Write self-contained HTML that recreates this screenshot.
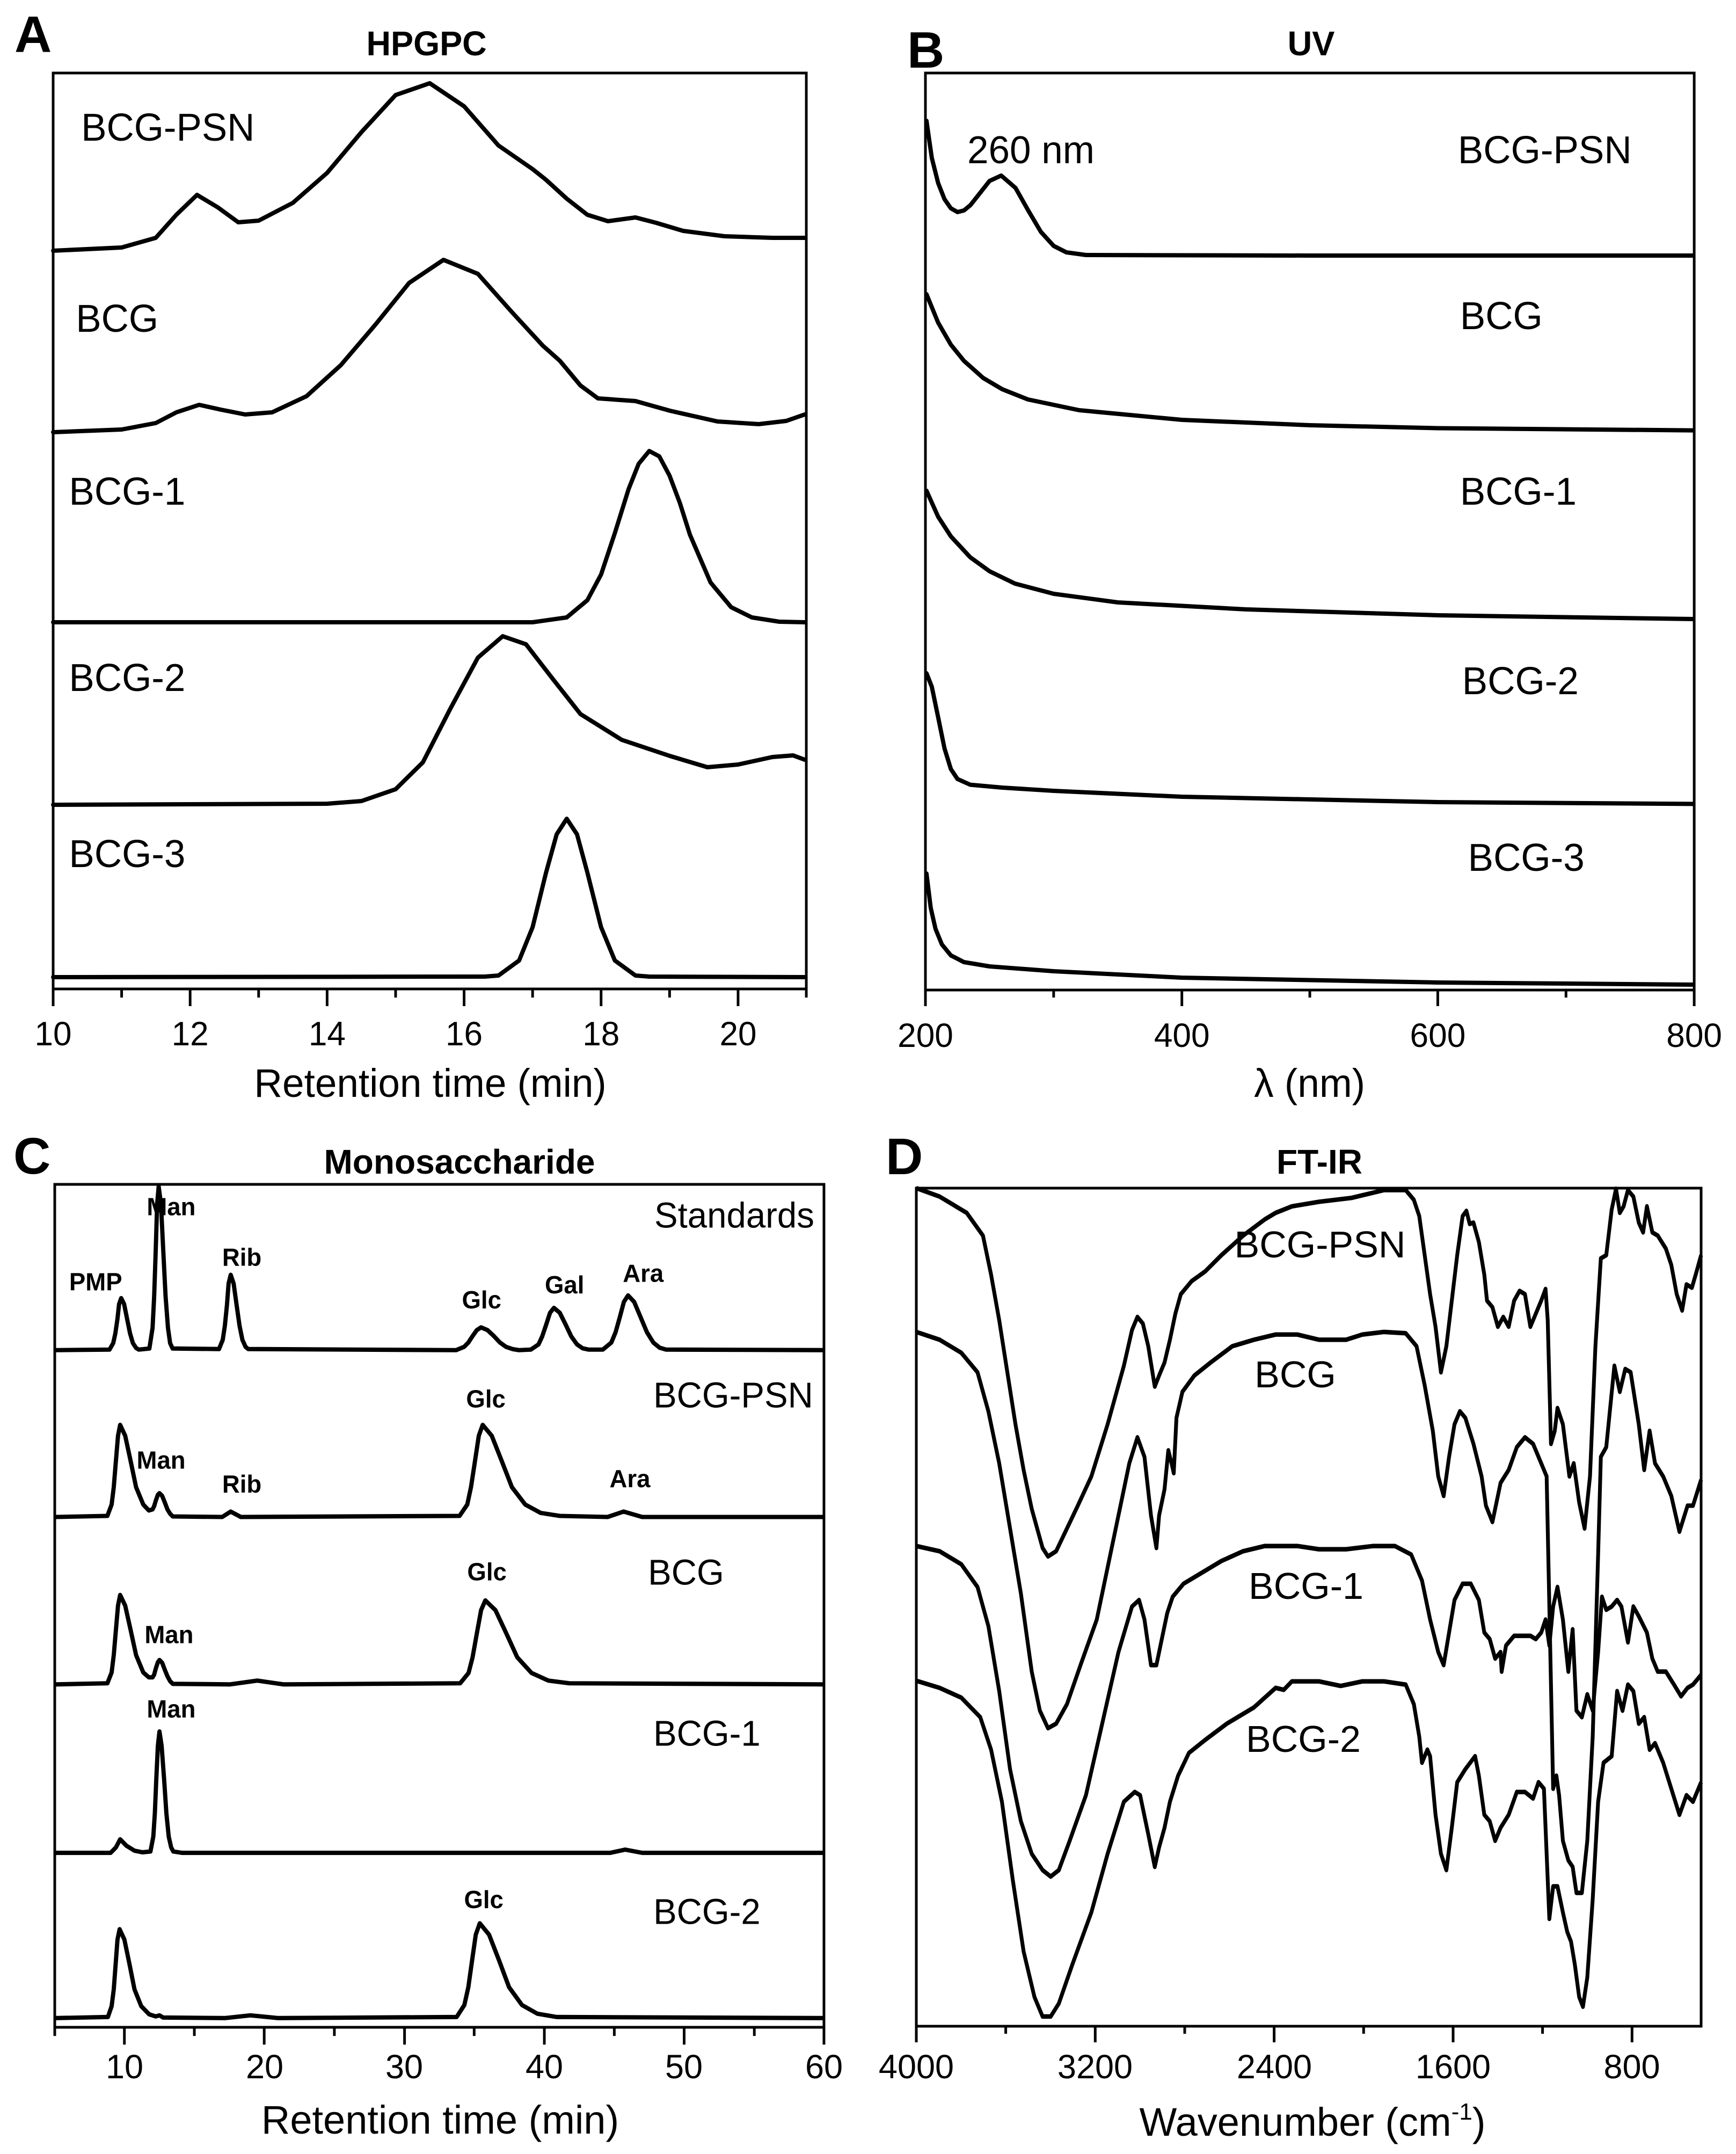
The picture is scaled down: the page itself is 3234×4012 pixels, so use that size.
<!DOCTYPE html>
<html><head><meta charset="utf-8">
<style>
html,body{margin:0;padding:0;background:#fff}
svg{display:block}
text{font-family:"Liberation Sans",Arial,sans-serif;fill:#000}
.b{font-weight:bold}
</style></head>
<body>
<svg width="3234" height="4012" viewBox="0 0 3234 4012" xmlns="http://www.w3.org/2000/svg">
<rect width="3234" height="4012" fill="#fff"/>

<!-- PANEL A -->
<g transform="translate(1.455,0) scale(0.9853,1)">
<rect x="99" y="136" width="1424" height="1706" fill="none" stroke="#000" stroke-width="5"/>
<path stroke="#000" stroke-width="5" fill="none" d="M99,1842v32 M228.5,1842v16 M358,1842v32 M487.5,1842v16 M617,1842v32 M746.5,1842v16 M876,1842v32 M1005.5,1842v16 M1135,1842v32 M1264.5,1842v16 M1394,1842v32 M1523,1842v16"/>
<g fill="none" stroke="#000" stroke-width="8" stroke-linejoin="round" stroke-linecap="round">
<polyline points="99,467 228.5,461 293,443 332,400 371,363 410,386 449,414 487.5,411 552,378 617,322 682,246 746.5,177 811,155 876,198 941,271 1005.5,315 1031,335 1070,370 1109,400 1148,412 1200,405 1239,415 1290,430 1368,440 1459,443 1520,443"/>
<polyline points="99,805 228.5,800 293,788 332,768 375,754 416,763 462,772 513,768 578,738 643,680 708,605 772,527 837,484 902,510 967,582 1025,644 1057,672 1096,718 1129,742 1200,747 1265,765 1355,785 1433,790 1485,784 1520,772"/>
<polyline points="99,1159 1005.5,1159 1070,1150 1109,1118 1135,1070 1161,993 1187,911 1206,864 1226,840 1245,850 1264.5,886 1284,937 1303,996 1342,1085 1381,1131 1420,1150 1472,1158 1520,1159"/>
<polyline points="99,1499 617,1497 682,1492 746.5,1470 798,1420 850,1320 902,1225 949,1185 993,1200 1044,1265 1096,1330 1174,1378 1265,1408 1336,1429 1394,1424 1459,1410 1498,1407 1520,1415"/>
<polyline points="99,1820 915,1819 941,1817 980,1789 1005.5,1727 1031,1625 1051,1554 1070,1525 1089.5,1554 1109,1625 1135,1727 1161,1789 1200,1817 1226,1819 1520,1820"/>
</g>
<text class="b" x="805" y="103" font-size="64" text-anchor="middle">HPGPC</text>
<g font-size="72">
<text x="152" y="262">BCG-PSN</text>
<text x="142" y="618">BCG</text>
<text x="129" y="940">BCG-1</text>
<text x="129" y="1287">BCG-2</text>
<text x="129" y="1615">BCG-3</text>
</g>
<g font-size="63" text-anchor="middle">
<text x="99" y="1947">10</text><text x="358" y="1947">12</text><text x="617" y="1947">14</text>
<text x="876" y="1947">16</text><text x="1135" y="1947">18</text><text x="1394" y="1947">20</text>
</g>
<text x="812" y="2043" font-size="74" text-anchor="middle">Retention time (min)</text>
</g>

<!-- PANEL B -->
<g transform="translate(7.6,0) scale(0.987,1)">
<rect x="1739" y="136" width="1451" height="1708" fill="none" stroke="#000" stroke-width="5"/>
<path stroke="#000" stroke-width="5" fill="none" d="M1739,1844v30 M1981,1844v14 M2223,1844v30 M2464.5,1844v14 M2706,1844v30 M2948,1844v14 M3190,1844v30"/>
<g fill="none" stroke="#000" stroke-width="8" stroke-linejoin="round" stroke-linecap="round">
<polyline points="1741,225 1751,294 1763,341 1775,371 1787,388 1799.5,395 1811.6,392 1824,382 1836,367 1860,337 1882,327 1909,350 1933,392 1957,432 1981,458 2005,470 2042,475 2464,476 3188,476"/>
<polyline points="1741,548 1763,601 1787,642 1811.6,672 1848,704 1884,725 1932.5,744 2029,764 2223,782 2464.5,792 2706,797.5 3188,801.6"/>
<polyline points="1741,914 1763,962.5 1787,999 1823.6,1038 1860,1064 1908,1087 1981,1106 2102,1122 2344,1135 2706,1146 3188,1153"/>
<polyline points="1741,1254 1751,1279 1763,1336 1775,1394 1787,1432.5 1799.5,1451 1823.6,1461.6 1884,1467 1981,1473 2223,1484 2706,1494 3188,1497.4"/>
<polyline points="1741,1627 1749,1691 1758,1730 1770,1759 1787,1779.5 1811.6,1792 1860,1800 1981,1809 2223,1821 2706,1830 3188,1834"/>
</g>
<text class="b" x="2467" y="103" font-size="64" text-anchor="middle">UV</text>
<g font-size="72">
<text x="1818" y="304">260 nm</text>
<text x="2744" y="304">BCG-PSN</text>
<text x="2748" y="613">BCG</text>
<text x="2748" y="940">BCG-1</text>
<text x="2752" y="1293">BCG-2</text>
<text x="2763" y="1622">BCG-3</text>
</g>
<g font-size="63" text-anchor="middle">
<text x="1739" y="1950">200</text><text x="2223" y="1950">400</text><text x="2706" y="1950">600</text><text x="3190" y="1950">800</text>
</g>
<text x="2464" y="2043" font-size="74" text-anchor="middle">λ (nm)</text>
</g>

<!-- PANEL C -->
<g transform="translate(2.97,-34) scale(0.9903,1.009)">
<rect x="100" y="2220" width="1447" height="1556" fill="none" stroke="#000" stroke-width="5"/>
<path stroke="#000" stroke-width="5" fill="none" d="M100,3776v16 M231,3776v32 M362.6,3776v16 M494,3776v32 M626,3776v16 M758,3776v32 M889,3776v16 M1021,3776v32 M1152.6,3776v16 M1284,3776v32 M1416,3776v16 M1547,3776v32"/>
<g fill="none" stroke="#000" stroke-width="8" stroke-linejoin="round" stroke-linecap="round">
<polyline points="102,2526 203,2525 210,2513 214,2495 218,2468 221,2441 225,2430 230.5,2441 236,2468 241.6,2495 247,2513 253,2522 258,2525 278,2523 284,2485 287,2427 290,2340 292.6,2256 295.5,2224 299.8,2256 304,2340 308.5,2427 313,2485 317,2513 321.6,2523 409,2524 416,2507 420,2481 424,2442 427,2403 431,2387 436.5,2403 442,2442 447.6,2481 453,2507 459,2520 464,2524 855,2526 870,2520 878,2512 886,2500 894,2489 902,2484 914,2489 926,2500 937.5,2512 949,2520 961,2524 973,2526 995.5,2525 1010,2515.5 1017,2500.6 1024.5,2478.7 1031.7,2457 1039,2448 1050,2457 1061,2478.7 1071.6,2500.6 1082.5,2515.5 1093,2522.6 1104,2525 1131,2525 1147,2512 1155,2493 1163,2465 1170.6,2437 1178.5,2425 1190,2437 1202,2465 1214,2493 1226,2512 1238,2521.6 1250,2525 1545,2526"/>
<polyline points="102,2834 199,2832 207,2811 211,2779 215,2731 219,2684 223,2664 232.5,2684 242.8,2731 253,2779 266.5,2811 277,2822 284,2820 287,2814 290,2804 294,2793 297,2790 302,2795 307,2807 312,2820 317,2828 322,2833 415,2834 431,2824 450,2834 861.5,2832 876,2811 883,2779 890.5,2731 897.7,2684 905,2664 922,2684 941,2731 960,2779 985,2811 1014,2826.5 1050,2832 1140,2834 1170,2824 1205,2834 1545,2834"/>
<polyline points="102,3143 199,3141 207,3121 211,3089 215,3043 219,2997.5 223,2978 232.5,2997.5 242.8,3043 253,3089 266.5,3121 277,3130 284,3130 287,3125 290,3114 294,3102 297,3098 302,3103 307,3116 312,3128 317,3137 322,3142 430,3143 481,3136 530,3143 862.6,3141 878.4,3122 886,3093 894,3049 902,3006 910,2988 929,3006 949.5,3049 970,3093 997,3122 1028.5,3136 1068,3141 1545,3143"/>
<polyline points="102,3454 205,3454 215,3444 223,3429 235,3441 250,3450 265,3453 280,3451.5 285.4,3424 288.3,3381 291,3318 294,3256 297,3230 301,3256 305.7,3318 310,3381 314.4,3424 319,3444 323,3451.5 340,3454 1145,3454 1173,3448 1205,3454 1545,3454"/>
<polyline points="102,3759 200,3757 207,3737 211,3706 214.6,3659 218,3614 222,3595 231,3614 240.5,3659 250,3706 262.7,3737 277.5,3752 290,3756 297,3754 304,3758 420,3759 468,3754 520,3759 856,3757 870.5,3735 878,3702 885,3653 892,3605 899.5,3584 917,3605 936,3653 954.6,3702 979,3735 1008,3751 1044,3757 1545,3759"/>
</g>
<g font-size="66">
<text x="1228" y="2300">Standards</text>
<text x="1226" y="2632">BCG-PSN</text>
<text x="1216" y="2959">BCG</text>
<text x="1226" y="3256">BCG-1</text>
<text x="1226" y="3585">BCG-2</text>
</g>
<g font-size="46" text-anchor="middle">
<text class="b" x="177" y="2416">PMP</text>
<text class="b" x="319" y="2277">Man</text>
<text class="b" x="452" y="2370">Rib</text>
<text class="b" x="903" y="2449">Glc</text>
<text class="b" x="1059" y="2421">Gal</text>
<text class="b" x="1207" y="2400">Ara</text>
<text class="b" x="911" y="2632">Glc</text>
<text class="b" x="300" y="2745">Man</text>
<text class="b" x="452" y="2789">Rib</text>
<text class="b" x="1182" y="2779">Ara</text>
<text class="b" x="913" y="2951">Glc</text>
<text class="b" x="315" y="3067">Man</text>
<text class="b" x="319" y="3204">Man</text>
<text class="b" x="907" y="3556">Glc</text>
</g>
</g>
<g font-size="63" text-anchor="middle">
<text x="232" y="3871">10</text><text x="493" y="3871">20</text><text x="753" y="3871">30</text>
<text x="1014" y="3871">40</text><text x="1274" y="3871">50</text><text x="1535" y="3871">60</text>
</g>
<text x="820" y="3974" font-size="74" text-anchor="middle">Retention time (min)</text>
<text class="b" x="856" y="2186" font-size="64" text-anchor="middle">Monosaccharide</text>

<!-- PANEL D -->
<rect x="1707" y="2213" width="1462" height="1561" fill="none" stroke="#000" stroke-width="5"/>
<path stroke="#000" stroke-width="5" fill="none" d="M1707,3774v30 M1873.6,3774v14 M2040.3,3774v30 M2207,3774v14 M2373.6,3774v30 M2540.3,3774v14 M2707,3774v30 M2873.6,3774v14 M3040.3,3774v30"/>
<g transform="translate(1649.4,2143.9) scale(1.0097,1.212)" fill="none" stroke="#000" stroke-width="7" stroke-linejoin="round">
<polyline points="57,57 100,70 150,95 180,130 195,190 210,260 225,340 240,420 255,490 270,550 290,610 300,623 315,615 335,580 355,545 380,500 410,420 440,330 455,275 465,255 475,265 485,300 497,362 505,345 515,325 525,290 535,250 545,220 565,200 590,185 620,160 660,130 700,105 720,95 750,85 800,78 830,75 860,72 885,67 920,60 960,60 975,75 985,100 995,160 1005,220 1015,270 1025,340 1035,300 1045,230 1055,160 1065,100 1072,92 1078,112 1085,110 1095,140 1105,190 1110,230 1120,240 1130,270 1140,255 1150,270 1160,230 1170,215 1180,220 1190,270 1200,250 1210,230 1218,212 1222,260 1228,450 1235,430 1240,395 1250,420 1262,500 1270,480 1280,540 1290,580 1300,500 1310,300 1320,165 1330,160 1340,90 1348,58 1355,95 1362,85 1370,60 1380,70 1390,110 1398,125 1405,85 1415,125 1425,130 1440,150 1450,175 1460,220 1470,245 1478,205 1488,210 1495,190 1505,160"/>
<polyline points="57,278 100,290 140,310 170,340 190,400 210,480 230,580 250,680 270,800 285,860 300,887 315,880 335,850 360,790 390,720 420,600 450,480 465,440 478,470 490,560 500,610 505,560 515,520 522,460 528,480 532,495 537,410 548,370 570,345 600,325 640,300 680,290 720,282 760,282 800,290 850,290 880,282 920,278 960,280 980,300 995,360 1010,430 1020,500 1030,530 1040,470 1050,420 1060,400 1070,410 1085,450 1100,500 1108,545 1120,570 1135,510 1150,490 1165,455 1180,440 1195,450 1210,480 1220,500 1225,700 1232,980 1238,960 1243,990 1250,1060 1260,1090 1268,1100 1275,1140 1285,1140 1295,1060 1305,900 1315,620 1320,470 1330,455 1345,330 1355,370 1365,335 1375,340 1390,420 1400,490 1410,430 1420,480 1435,500 1450,530 1465,585 1480,545 1490,545 1505,505"/>
<polyline points="57,607 100,615 140,635 170,670 190,730 210,830 230,950 250,1030 270,1080 290,1105 305,1115 320,1105 340,1060 370,990 400,880 430,770 455,700 468,690 478,720 490,790 500,790 510,750 520,710 530,685 550,665 580,650 620,630 660,615 700,607 760,607 800,612 850,612 900,607 940,607 970,620 990,660 1005,720 1020,770 1030,790 1040,740 1050,690 1065,665 1080,665 1095,690 1105,740 1115,750 1125,780 1135,770 1137,800 1145,760 1160,745 1175,745 1190,745 1200,750 1210,740 1218,720 1225,760 1232,700 1240,670 1250,720 1260,800 1268,735 1275,860 1285,870 1295,835 1305,860 1315,770 1322,685 1330,705 1340,700 1350,690 1358,700 1370,755 1380,700 1390,715 1405,740 1415,780 1425,800 1440,800 1455,820 1468,838 1480,825 1490,820 1505,805"/>
<polyline points="57,814 100,825 140,840 175,870 195,920 215,1000 235,1120 255,1230 275,1300 290,1330 305,1330 320,1310 345,1250 380,1170 410,1080 440,1000 460,985 470,990 485,1050 497,1100 505,1070 515,1040 525,1000 540,960 560,925 590,905 630,880 680,855 720,825 735,828 750,815 800,815 840,822 880,815 920,815 960,820 975,850 985,900 990,940 1000,920 1005,930 1015,1020 1025,1080 1035,1105 1045,1040 1055,970 1070,950 1088,930 1095,960 1105,1020 1115,1030 1125,1060 1135,1040 1150,1020 1165,985 1180,985 1195,995 1205,970 1215,980 1225,1180 1232,1130 1240,1130 1250,1170 1258,1200 1265,1215 1272,1250 1280,1300 1287,1315 1295,1270 1305,1150 1315,1000 1325,940 1340,930 1350,830 1360,860 1370,820 1380,830 1390,880 1400,870 1410,920 1420,910 1435,940 1450,980 1465,1020 1478,990 1490,1000 1505,970"/>
</g>
<g font-size="70" text-anchor="middle">
<text x="2459" y="2342">BCG-PSN</text>
<text x="2413" y="2584">BCG</text>
<text x="2433" y="2978">BCG-1</text>
<text x="2428" y="3263">BCG-2</text>
</g>
<text class="b" x="2458" y="2186" font-size="64" text-anchor="middle">FT-IR</text>
<g font-size="63" text-anchor="middle">
<text x="1707" y="3871">4000</text><text x="2040" y="3871">3200</text><text x="2374" y="3871">2400</text>
<text x="2707" y="3871">1600</text><text x="3040" y="3871">800</text>
</g>
<text x="2445" y="3978" font-size="74" text-anchor="middle">Wavenumber (cm<tspan font-size="44" dy="-30">-1</tspan><tspan dy="30">)</tspan></text>

<!-- panel letters -->
<text class="b" x="27" y="97" font-size="96">A</text>
<text class="b" x="1690" y="126" font-size="96">B</text>
<text class="b" x="25" y="2186" font-size="96">C</text>
<text class="b" x="1650" y="2187" font-size="96">D</text>
</svg>
</body></html>
